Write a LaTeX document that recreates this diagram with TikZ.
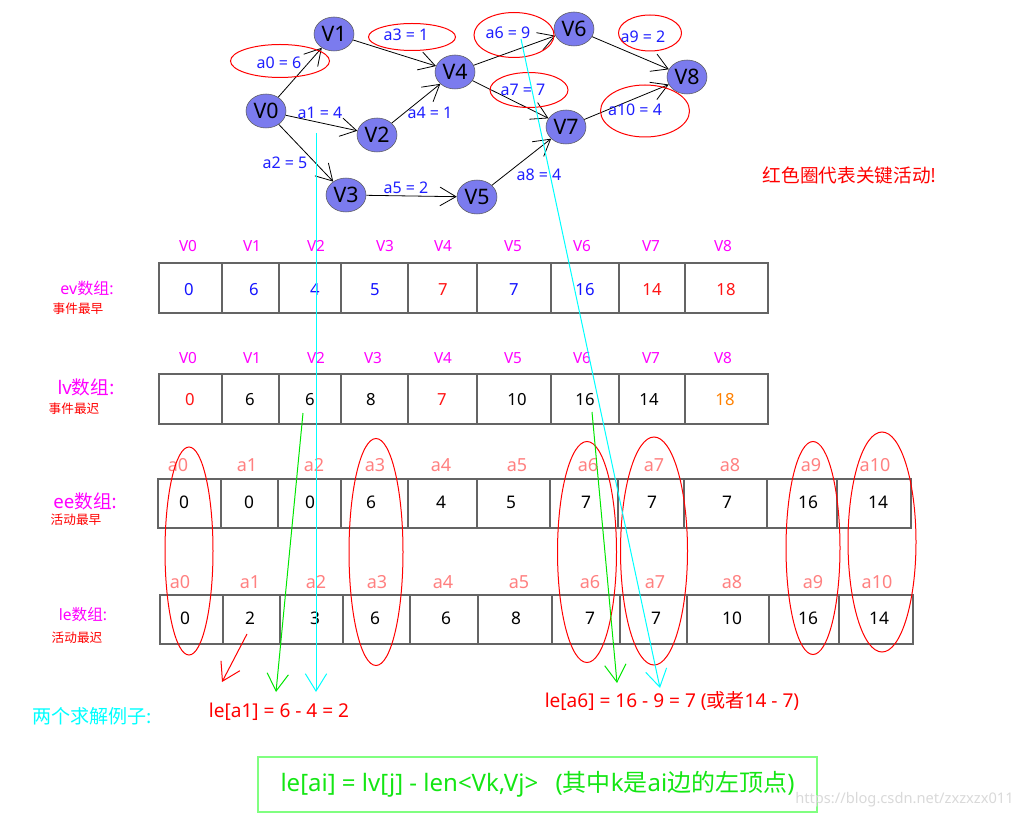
\documentclass[tikz,border=0pt]{standalone}
\usepackage{fontspec}
\usepackage{xcolor}
\setmainfont{Noto Sans}
\newfontfamily\cjk{Noto Sans CJK SC}
\usetikzlibrary{arrows.meta,shapes.geometric}

\definecolor{vtxfill}{RGB}{123,123,238}
\definecolor{lblblue}{RGB}{30,30,255}
\definecolor{hdmag}{RGB}{255,0,255}
\definecolor{hdpink}{RGB}{255,128,128}
\definecolor{valblue}{RGB}{20,20,255}
\definecolor{valred}{RGB}{255,20,20}
\definecolor{valorange}{RGB}{255,128,0}
\definecolor{lncyan}{RGB}{0,255,255}
\definecolor{lngreen}{RGB}{0,230,0}
\definecolor{boxgreen}{RGB}{128,255,128}
\definecolor{txtgreen}{RGB}{20,230,20}
\definecolor{cellgray}{RGB}{100,100,100}
\newcommand{\fsz}[1]{\fontsize{#1}{#1}\selectfont}

\begin{document}
\begin{tikzpicture}[x=0.75pt, y=-0.75pt,
    vtx/.style={ellipse, draw=gray!70!black, fill=vtxfill, minimum width=30pt, minimum height=25.5pt, inner sep=0pt, font=\fsz{16}},
    lbl/.style={text=lblblue, inner sep=0pt, font=\fsz{12}},
    edge/.style={draw=black, line width=0.6pt, -{Straight Barb[length=12pt,width=14pt]}},
    ring/.style={draw=red, line width=0.75pt},
    cell/.style={draw=cellgray, line width=1.3pt},
    vhead/.style={text=hdmag, inner sep=0pt, font=\fsz{11.5}},
    ahead/.style={text=hdpink, inner sep=0pt, font=\fsz{13.5}},
    val/.style={inner sep=0pt, font=\fsz{12.5}},
    aval/.style={inner sep=0pt, font=\fsz{13}},
    rowname/.style={text=hdmag, inner sep=0pt},
    rownote/.style={text=red, inner sep=0pt, font=\cjk\fsz{9.5}},
    hint/.style={line width=0.75pt, -{Straight Barb[length=13pt,width=16pt]}}]
    \useasboundingbox (0,0) rectangle (1013,816);

    % vertices
    \node[vtx] (V0) at (266,111) {V0};
    \node[vtx] (V1) at (334,34) {V1};
    \node[vtx] (V2) at (377,135) {V2};
    \node[vtx] (V3) at (346,195) {V3};
    \node[vtx] (V4) at (455,72) {V4};
    \node[vtx] (V5) at (477,197) {V5};
    \node[vtx] (V6) at (574,29) {V6};
    \node[vtx] (V7) at (566,127) {V7};
    \node[vtx] (V8) at (687,77) {V8};

    % activities
    \foreach \s/\t in {V0/V1, V0/V2, V0/V3, V1/V4, V2/V4, V3/V5, V4/V6, V4/V7, V5/V7, V6/V8, V7/V8}
        \draw[edge] (\s) -- (\t);
    \foreach \x/\y/\t [count=\i from 0] in {279/63/6, 320/113/4, 285/163/5, 406/35/1, 430/113/1, 406/188/2, 508/33/9, 523/90/7, 539/175/4, 643/37/2, 635/110/4}
        \node[lbl] (a\i) at (\x,\y) {a\i{} = \t};

    % critical activities
    \draw[ring] (280,61) ellipse [x radius=49.5, y radius=16.5];
    \draw[ring] (412,37) ellipse [x radius=43.5, y radius=13.5];
    \draw[ring] (514,35) ellipse [x radius=40, y radius=22.5];
    \draw[ring] (529,90) ellipse [x radius=39, y radius=17.5];
    \draw[ring] (650,33) ellipse [x radius=31.5, y radius=18];
    \draw[ring] (645,111) ellipse [x radius=44.5, y radius=26];
    \node[text=red, inner sep=0pt, font=\cjk\fsz{14}] (note) at (850,175) {红色圈代表关键活动!};

    % ev array
    \node[rowname, font=\fsz{12}] (evname) at (87,288) {ev{\cjk 数组}:};
    \node[rownote] (evnote) at (78,309) {事件最早};
    \draw[cell] (159,263) rectangle (768,313);
    \foreach \x in {222,279,341,408,477,551,619,685}
        \draw[cell] (\x,263) -- (\x,313);
    \foreach \x [count=\i from 0] in {188,252,316,385,443,513,582,651,723}
        \node[vhead] (evh\i) at (\x,246) {V\i};
    \foreach \x/\v/\c [count=\i from 0] in {189/0/valblue, 254/6/valblue, 315/4/valblue, 375/5/valblue, 443/7/valred, 514/7/valblue, 585/16/valblue, 652/14/valred, 726/18/valred}
        \node[val, text=\c] (ev\i) at (\x,290) {\v};

    % lv array
    \node[rowname, font=\fsz{14}] (lvname) at (86,387) {lv{\cjk 数组}:};
    \node[rownote] (lvnote) at (74,409) {事件最迟};
    \draw[cell] (159,374) rectangle (768,424);
    \foreach \x in {222,279,341,408,477,551,619,685}
        \draw[cell] (\x,374) -- (\x,424);
    \foreach \x [count=\i from 0] in {188,252,316,373,443,513,582,651,723}
        \node[vhead] (lvh\i) at (\x,358) {V\i};
    \foreach \x/\v/\c [count=\i from 0] in {190/0/valred, 250/6/black, 310/6/black, 371/8/black, 442/7/valred, 517/10/black, 585/16/black, 649/14/black, 725/18/valorange}
        \node[val, text=\c] (lv\i) at (\x,400) {\v};

    % ee array
    \node[rowname, font=\fsz{14}] (eename) at (85,501) {ee{\cjk 数组}:};
    \node[rownote] (eenote) at (76,520) {活动最早};
    \draw[cell] (158,479) rectangle (911,528);
    \foreach \x in {221,278,341,408,477,550,618,684,767,837}
        \draw[cell] (\x,479) -- (\x,528);
    \foreach \x [count=\i from 0] in {178,247,314,375,441,517,588,654,730,811,875}
        \node[ahead] (eeh\i) at (\x,465) {a\i};
    \foreach \x/\v [count=\i from 0] in {184/0, 249/0, 310/0, 371/6, 441/4, 511/5, 586/7, 652/7, 727/7, 808/16, 878/14}
        \node[aval] (ee\i) at (\x,502) {\v};

    % le array
    \node[rowname, font=\fsz{11.7}] (lename) at (83,615) {le{\cjk 数组}:};
    \node[rownote] (lenote) at (77,638) {活动最迟};
    \draw[cell] (160,595) rectangle (913,644);
    \foreach \x in {223,280,343,410,478,552,620,687,769,839}
        \draw[cell] (\x,595) -- (\x,644);
    \foreach \x [count=\i from 0] in {180,250,316,377,443,519,590,655,732,813,877}
        \node[ahead] (leh\i) at (\x,582) {a\i};
    \foreach \x/\v [count=\i from 0] in {185/0, 250/2, 315/3, 375/6, 446/6, 516/8, 590/7, 656/7, 732/10, 808/16, 879/14}
        \node[aval] (le\i) at (\x,618) {\v};

    % critical columns
    \foreach \x/\y/\rx/\ry in {189/551/24/104, 376/552/27/113.5, 587/552/29.5/110.5, 654/551/33.5/114, 813/548/27/106.5, 882/542/34/110}
        \draw[ring] (\x,\y) ellipse [x radius=\rx, y radius=\ry];

    % worked examples
    \coordinate (cyanAs) at (316,133);
    \coordinate (cyanAe) at (316,692);
    \coordinate (cyanBs) at (521,39);
    \coordinate (cyanBe) at (660,688);
    \coordinate (greenAs) at (303,413);
    \coordinate (greenAe) at (276,692);
    \coordinate (greenBs) at (592,412);
    \coordinate (greenBe) at (617,683);
    \coordinate (redAs) at (247,634);
    \coordinate (redAe) at (222,682);
    \draw[hint, lncyan] (cyanAs) -- (cyanAe);
    \draw[hint, lncyan] (cyanBs) -- (cyanBe);
    \draw[hint, lngreen] (greenAs) -- (greenAe);
    \draw[hint, lngreen] (greenBs) -- (greenBe);
    \draw[hint, red] (redAs) -- (redAe);

    \node[text=lncyan, inner sep=0pt, font=\cjk\fsz{14.3}] (examples) at (92,716) {两个求解例子:};
    \node[text=red, inner sep=0pt, font=\fsz{14.3}] (exA) at (279,712) {le[a1] = 6 - 4 = 2};
    \node[text=red, inner sep=0pt, font=\fsz{14.3}] (exB) at (672,701) {le[a6] = 16 - 9 = 7 ({\cjk 或者}14 - 7)};

    % rule
    \node[draw=boxgreen, line width=1.5pt, minimum width=419pt, minimum height=41pt, inner sep=0pt, text=txtgreen, font=\fsz{18}] (rule) at (537.5,784.5)
        {le[ai] = lv[j] - len<Vk,Vj>\hspace{13pt}({\cjk 其中}k{\cjk 是}ai{\cjk 边的左顶点})};
    \node[anchor=west, text=gray!30, inner sep=0pt, font=\fsz{11}] (mark) at (795,800) {https://blog.csdn.net/zxzxzx011};
\end{tikzpicture}
\end{document}
